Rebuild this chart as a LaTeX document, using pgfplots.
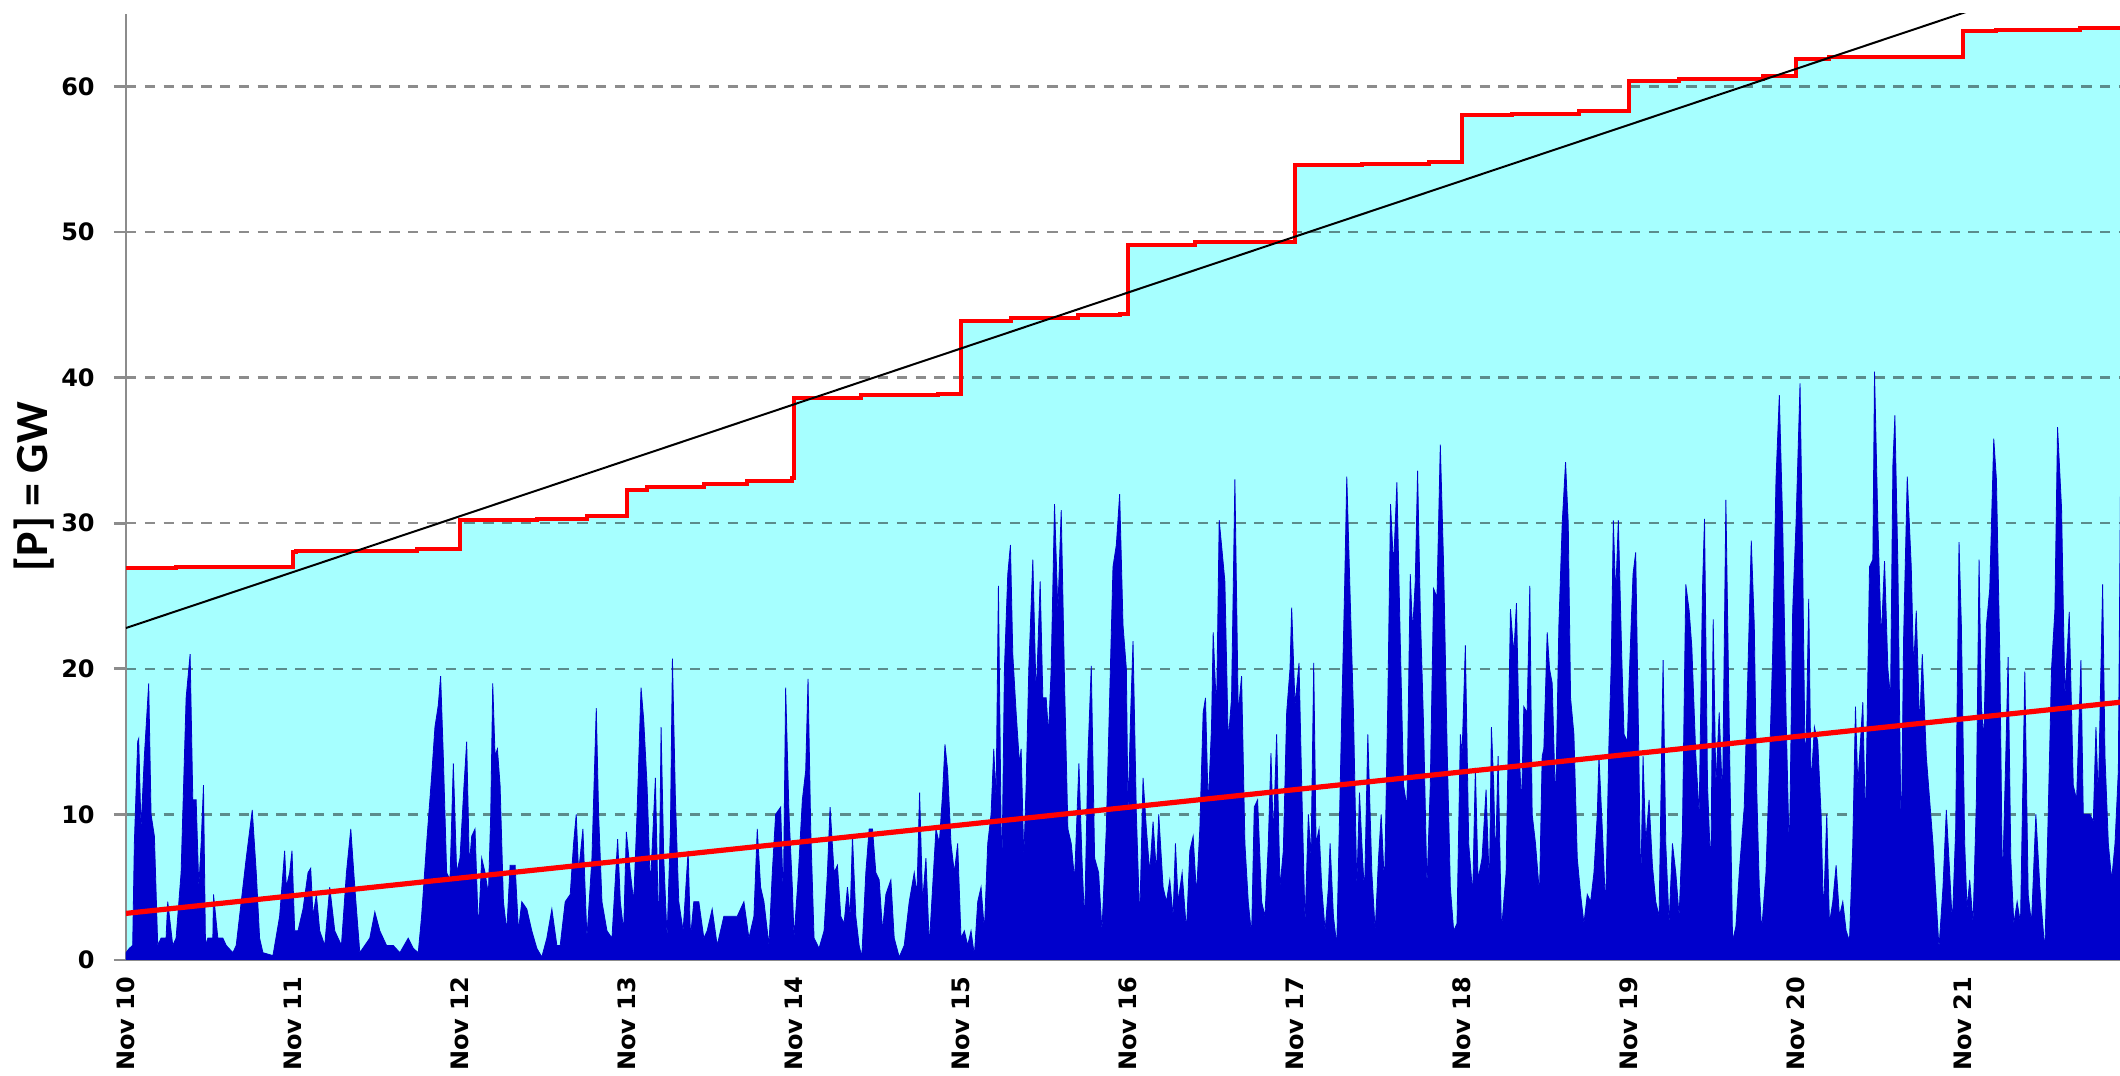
\documentclass[border=0pt]{standalone}
\usepackage{fontspec}
\setmainfont{DejaVu Sans}
\newfontfamily\carlito{Carlito}
\usepackage{pgfplots}
\pgfplotsset{compat=1.18}
\usepackage{pgfplotstable}
\definecolor{capfill}{HTML}{A6FFFF}
\definecolor{windblue}{HTML}{0000CC}
\definecolor{axgray}{HTML}{8C8C8C}

\pgfplotstableread{
x y
0 26.9
0.3 27.0
1.0 28.0
1.02 28.1
1.74 28.2
2.0 30.2
2.46 30.3
2.76 30.5
3.0 32.3
3.12 32.5
3.46 32.7
3.72 32.9
3.99 33.1
4.0 38.6
4.4 38.8
4.86 38.9
5.0 43.9
5.3 44.1
5.7 44.3
5.95 44.4
6.0 49.1
6.4 49.3
7.0 54.6
7.4 54.7
7.8 54.8
8.0 58.0
8.3 58.1
8.7 58.3
9.0 60.4
9.3 60.5
9.8 60.7
10.0 61.9
10.2 62.0
11.0 63.8
11.2 63.9
11.7 64.0
11.94 64.0
}\captable

\pgfplotstableread{
x y
0 0.5
0.02 0.8
0.04 1.0
0.05 8
0.07 15
0.076 15.2
0.09 9
0.11 14
0.136 19
0.15 10
0.17 8.5
0.19 1
0.21 1.5
0.24 1.5
0.25 4
0.28 1
0.30 1.5
0.33 6
0.36 18
0.384 21
0.40 11
0.42 11
0.436 5
0.45 8
0.464 12
0.476 1
0.49 1.5
0.52 1.5
0.524 4.5
0.55 1.5
0.58 1.5
0.60 1.0
0.64 0.5
0.66 1
0.69 4
0.72 7
0.756 10.3
0.78 6
0.80 1.5
0.82 0.5
0.88 0.3
0.92 3
0.95 7.5
0.96 5
0.98 6
0.994 7.5
1.01 2
1.03 2
1.06 3.5
1.09 6
1.106 6.3
1.12 3
1.14 4.5
1.16 2
1.19 1
1.22 5
1.25 2
1.29 1
1.32 6
1.346 9
1.37 5
1.40 0.5
1.43 1
1.46 1.5
1.49 3.3
1.52 2
1.56 1
1.60 1
1.64 0.5
1.69 1.5
1.72 0.8
1.75 0.5
1.77 3
1.80 8
1.83 12.6
1.85 16
1.87 17.5
1.884 19.5
1.90 14
1.92 6
1.94 5.5
1.96 13.5
1.98 6
2.0 7
2.024 12
2.04 15
2.056 6.5
2.07 8.5
2.09 9
2.11 2
2.13 7
2.15 6
2.17 4.5
2.184 10
2.196 19
2.21 14
2.224 14.5
2.24 12
2.26 4
2.28 2
2.30 6.5
2.33 6.5
2.35 2
2.37 4
2.40 3.5
2.43 2
2.46 0.8
2.49 0.2
2.52 1.5
2.55 3.5
2.58 1
2.60 1
2.63 4
2.66 4.5
2.68 8
2.696 10
2.71 6
2.736 9
2.76 1.5
2.79 7
2.816 17.3
2.83 10
2.85 4
2.88 2
2.91 1.5
2.944 8.3
2.96 4
2.98 2
2.996 8.8
3.02 6
3.04 4
3.06 10
3.084 18.7
3.10 16.5
3.12 12
3.14 5
3.17 12.5
3.19 1.5
3.204 16
3.22 7
3.24 1.5
3.26 9
3.272 20.7
3.29 11
3.31 4
3.336 2
3.366 7.5
3.38 1.5
3.40 4
3.43 4
3.46 1.5
3.48 2
3.51 3.5
3.54 1
3.58 3
3.62 3
3.66 3
3.70 4
3.73 1.5
3.76 3
3.78 9
3.80 5
3.82 4
3.85 1
3.87 6
3.89 10
3.92 10.5
3.936 4
3.95 18.7
3.97 10
3.99 5
4.0 1.5
4.024 5.5
4.05 11
4.07 13
4.084 19.3
4.10 9
4.12 1.5
4.15 0.8
4.18 2
4.20 6
4.216 10.5
4.24 6
4.26 6.5
4.28 3
4.30 2.5
4.32 5
4.336 3
4.35 8.5
4.37 3
4.39 1
4.406 0.2
4.43 6
4.45 9
4.47 9
4.49 6
4.51 5.5
4.53 2
4.55 4.5
4.58 5.5
4.60 1.5
4.63 0.2
4.66 1
4.69 4
4.72 6
4.736 4.5
4.752 11.5
4.77 4
4.79 7
4.81 1
4.83 5
4.85 9
4.87 8
4.89 11.5
4.904 14.8
4.92 13
4.94 8
4.96 6
4.98 8
5.0 1.5
5.02 2
5.04 1
5.06 2
5.08 0.3
5.10 4
5.12 5
5.14 2
5.16 8
5.18 10
5.196 14.5
5.21 11
5.224 25.7
5.244 5
5.26 20
5.28 26.5
5.296 28.5
5.31 21
5.33 17
5.35 13.5
5.36 14.5
5.376 7
5.39 12
5.406 20
5.43 27.5
5.45 18
5.474 26
5.49 18
5.51 18
5.524 15.5
5.54 20
5.56 31.3
5.58 24
5.60 30.9
5.62 19
5.64 9
5.66 8
5.68 5.5
5.706 13.5
5.724 7
5.74 2.5
5.76 14
5.78 20.2
5.80 7
5.824 6
5.844 2
5.87 9
5.89 18
5.91 27
5.93 28.5
5.95 32
5.97 23
5.99 20
6.0 10
6.016 17
6.03 21.9
6.05 10
6.07 2.7
6.09 12.5
6.11 9
6.13 6
6.15 9.5
6.17 6
6.184 10
6.21 5
6.23 4
6.25 5.5
6.27 3
6.284 8
6.30 4
6.324 6
6.35 2
6.37 7.5
6.39 8.5
6.41 4.5
6.43 9
6.45 17
6.464 18
6.48 10.5
6.50 16
6.51 22.5
6.53 17
6.546 30.2
6.564 28
6.58 26
6.60 15
6.62 18
6.64 33
6.66 17
6.68 19.5
6.70 8
6.72 4
6.74 1.7
6.756 10.5
6.776 11
6.80 4
6.82 3
6.84 8
6.856 14.2
6.87 8.5
6.89 15.5
6.91 5
6.93 7.5
6.95 17
6.97 20
6.98 24.2
7.0 17.5
7.024 20.4
7.04 12
7.06 2.5
7.08 10
7.096 7
7.112 20.4
7.126 8
7.144 9
7.16 5
7.18 2
7.20 5
7.21 8
7.23 3
7.25 1
7.28 17
7.296 25
7.31 33.2
7.33 25
7.35 17
7.37 5
7.386 11.5
7.40 8
7.416 4.5
7.436 15.5
7.46 6
7.48 2
7.50 7
7.516 10
7.536 5
7.556 18
7.572 31.3
7.59 27
7.61 32.8
7.63 22
7.65 12
7.67 10.5
7.69 26.5
7.704 22.5
7.72 26
7.734 33.6
7.75 24
7.77 16
7.79 5
7.81 12
7.83 25.5
7.85 24.9
7.87 35.4
7.89 27
7.91 15
7.93 5
7.95 2
7.97 2.5
7.99 15.5
8.0 14
8.02 21.6
8.04 8
8.064 4.5
8.08 13.2
8.096 5.5
8.12 7
8.144 11.7
8.164 5
8.176 16
8.19 12
8.20 6.5
8.216 14
8.236 2
8.25 4
8.264 6
8.28 17
8.29 24.1
8.31 21
8.326 24.5
8.344 14
8.356 10.5
8.37 17.4
8.39 17
8.406 25.7
8.42 10
8.44 8
8.464 4.5
8.48 14
8.49 14.5
8.51 22.5
8.524 20
8.54 19
8.56 10.5
8.58 23
8.60 30
8.62 34.2
8.636 30
8.65 18
8.67 15.5
8.69 7
8.71 4.5
8.73 2.5
8.75 4.5
8.77 4
8.79 6
8.81 10
8.82 14
8.84 9
8.86 3.5
8.88 15
8.894 20.5
8.906 30.2
8.92 25
8.936 30.2
8.956 21
8.97 15.5
8.99 15
9.0 19
9.024 26.5
9.04 28
9.06 13
9.07 4.5
9.084 14
9.10 8
9.12 11
9.14 6.5
9.16 4
9.18 3
9.204 20.6
9.22 8
9.24 2.5
9.26 8
9.28 6
9.30 3
9.32 9
9.34 25.8
9.36 24
9.376 21.5
9.40 14
9.42 10
9.44 25.5
9.452 30.3
9.47 12
9.49 6
9.504 23.4
9.52 12
9.54 17
9.56 11
9.58 31.6
9.60 16
9.62 1.3
9.64 2.3
9.66 6
9.69 10.5
9.71 19
9.732 28.8
9.75 23
9.764 12
9.78 5
9.794 2
9.82 6
9.84 13
9.86 21
9.88 33
9.90 38.8
9.92 30
9.94 17
9.96 7
9.98 24
10.0 30
10.024 39.6
10.04 27
10.056 12
10.076 24.8
10.09 12
10.11 16
10.13 15
10.15 10
10.164 3
10.184 10
10.20 2.5
10.22 4
10.24 6.5
10.26 3
10.28 4
10.30 2
10.32 1.3
10.34 8
10.356 17.4
10.37 12
10.40 17.7
10.416 9
10.44 27
10.46 27.5
10.47 40.4
10.49 30
10.51 22
10.53 27.4
10.55 20
10.566 18
10.58 34
10.592 37.4
10.61 27
10.63 7.5
10.644 22
10.666 33.2
10.69 27
10.704 20
10.72 24
10.74 16
10.756 21
10.78 14
10.80 11
10.82 8
10.84 4
10.856 0.8
10.88 5
10.90 10.3
10.92 6
10.936 2.5
10.956 9
10.976 28.7
10.99 23
11.01 8
11.024 3.5
11.04 5.5
11.06 2.5
11.08 11
11.096 27.5
11.11 17.5
11.124 15
11.14 23
11.16 25.5
11.184 35.8
11.20 33
11.22 21
11.236 5
11.256 14
11.27 20.8
11.286 7
11.304 2.5
11.324 4
11.344 2.5
11.37 19.8
11.39 4.5
11.41 2.5
11.436 10
11.46 5
11.49 0.6
11.51 10
11.53 20
11.55 24
11.566 36.6
11.59 31
11.61 18
11.636 23.9
11.66 12
11.68 11
11.706 20.6
11.72 10
11.74 10
11.76 10
11.78 9.5
11.796 16
11.81 11
11.836 25.8
11.85 14
11.87 8
11.89 5.5
11.91 8
11.93 13
11.945 36
}\windtable

\begin{document}
\begin{tikzpicture}
\begin{axis}[
  name=ax,
  set layers,
  scale only axis,
  width=498.5pt, height=236.6pt,
  xmin=0, xmax=11.94, ymin=0, ymax=65,
  axis lines*=left,
  axis line style={axgray, line width=0.7pt},
  xtick={0,1,...,11},
  xticklabels={Nov 10,Nov 11,Nov 12,Nov 13,Nov 14,Nov 15,Nov 16,Nov 17,Nov 18,Nov 19,Nov 20,Nov 21},
  ytick={0,10,...,60},
  tick align=outside,
  major tick length=3pt,
  xtick style={draw=none},
  ytick style={axgray, line width=0.7pt},
  ymajorgrids,
  major grid style={black, opacity=0.45, line width=0.6pt, dash pattern=on 2.6pt off 2.1pt},
  /pgf/number format/assume math mode=true,
  ticklabel style={font=\fontsize{6}{7}\selectfont\bfseries},
  xticklabel style={rotate=90, anchor=east, inner sep=0pt},
  xticklabel shift=1pt,
  yticklabel shift=1.3pt,
  ylabel={[P] = GW},
  every axis y label/.style={at={(axis description cs:-0.046,0.5)}, rotate=90, anchor=center, font=\carlito\bfseries\fontsize{11.5}{12}\selectfont},
]
\addplot[const plot, fill=capfill, draw=none, on layer=axis background] table {\captable} \closedcycle;
\addplot[fill=windblue, draw=windblue, line width=0.2pt] table {\windtable} \closedcycle;
\addplot[const plot, red, line width=1pt] table {\captable};
\addplot[black, line width=0.5pt] coordinates {(0,22.8) (11.94,68.65)};
\addplot[red, line width=1.3pt] coordinates {(0,3.2) (11.94,17.7)};
\end{axis}
\pgfresetboundingbox
\path ([xshift=-31.5pt, yshift=-29pt]ax.south west) rectangle ([yshift=3.4pt]ax.north east);
\end{tikzpicture}
\end{document}
